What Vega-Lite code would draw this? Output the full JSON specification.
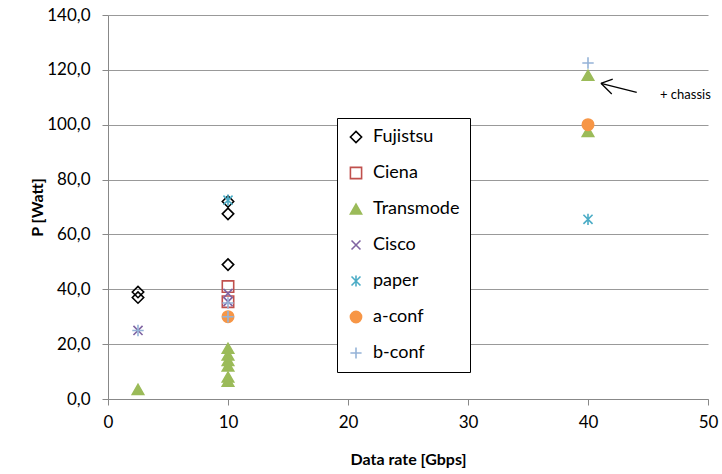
{
  "$schema": "https://vega.github.io/schema/vega-lite/v6.json",
  "autosize": "none",
  "width": 600,
  "height": 384,
  "padding": {"left": 108, "top": 15, "right": 14, "bottom": 75},
  "background": "white",
  "config": {
    "font": "Lato",
    "view": {"stroke": null},
    "axis": {"labelFont": "Lato", "titleFont": "Lato", "labelColor": "black", "titleColor": "black"},
    "legend": {
      "orient": "none", "legendX": 229, "legendY": 103, "title": null,
      "strokeColor": "black", "padding": 10, "fillColor": "white",
      "labelFontSize": 18, "labelFont": "Lato", "labelColor": "black", "rowPadding": 18,
      "symbolSize": 125, "labelOffset": 8, "symbolStrokeWidth": 1.6, "symbolOpacity": 1
    }
  },
  "datasets": {
    "pts": [
      {"series": "Fujistsu", "rate": 2.5, "power": 39},
      {"series": "Fujistsu", "rate": 2.5, "power": 37},
      {"series": "Fujistsu", "rate": 10, "power": 72},
      {"series": "Fujistsu", "rate": 10, "power": 67.5},
      {"series": "Fujistsu", "rate": 10, "power": 49},
      {"series": "Ciena", "rate": 10, "power": 41},
      {"series": "Ciena", "rate": 10, "power": 35.5},
      {"series": "Transmode", "rate": 2.5, "power": 3.5},
      {"series": "Transmode", "rate": 10, "power": 18.5},
      {"series": "Transmode", "rate": 10, "power": 16},
      {"series": "Transmode", "rate": 10, "power": 14},
      {"series": "Transmode", "rate": 10, "power": 12},
      {"series": "Transmode", "rate": 10, "power": 8},
      {"series": "Transmode", "rate": 10, "power": 6.5},
      {"series": "Transmode", "rate": 40, "power": 118},
      {"series": "Transmode", "rate": 40, "power": 97.5},
      {"series": "Cisco", "rate": 2.5, "power": 25},
      {"series": "Cisco", "rate": 10, "power": 38.5},
      {"series": "Cisco", "rate": 10, "power": 35.5},
      {"series": "paper", "rate": 10, "power": 72.5},
      {"series": "paper", "rate": 40, "power": 65.5},
      {"series": "a-conf", "rate": 10, "power": 30},
      {"series": "a-conf", "rate": 40, "power": 100},
      {"series": "b-conf", "rate": 2.5, "power": 25},
      {"series": "b-conf", "rate": 10, "power": 35},
      {"series": "b-conf", "rate": 10, "power": 30},
      {"series": "b-conf", "rate": 40, "power": 122.5}
    ],
    "arrow": [
      {"seg": "shaft", "x1": 41.08, "y1": 115.1, "x2": 44.06, "y2": 111.8},
      {"seg": "up", "x1": 41.08, "y1": 115.1, "x2": 42.06, "y2": 116.6},
      {"seg": "low", "x1": 41.08, "y1": 115.1, "x2": 41.98, "y2": 111.2}
    ],
    "note": [{"rate": 46, "power": 110.8, "label": "+ chassis"}]
  },
  "layer": [
    {
      "data": {"name": "pts"},
      "mark": {"type": "point", "size": 130, "strokeWidth": 1.6, "opacity": 1, "clip": false},
      "encoding": {
        "x": {
          "field": "rate", "type": "quantitative",
          "scale": {"domain": [0, 50], "nice": false, "zero": true},
          "axis": {
            "title": "Data rate [Gbps]", "titleFontSize": 16, "titleFontWeight": "bold", "titlePadding": 21,
            "values": [0, 10, 20, 30, 40, 50], "labelFontSize": 17, "labelPadding": 9,
            "grid": false, "domainColor": "#888888", "tickColor": "#888888", "tickSize": 6, "labelFlush": false
          }
        },
        "y": {
          "field": "power", "type": "quantitative",
          "scale": {"domain": [0, 140], "nice": false},
          "axis": {
            "title": "P [Watt]", "titleFontSize": 16, "titleFontWeight": "bold", "titleX": -63,
            "values": [0, 20, 40, 60, 80, 100, 120, 140], "labelFontSize": 17, "labelPadding": 12,
            "labelExpr": "replace(format(datum.value, '.1f'), '.', ',')",
            "grid": true, "gridColor": "#999999", "gridWidth": 1,
            "domainColor": "#888888", "tickColor": "#888888", "tickSize": 6
          }
        },
        "shape": {
          "field": "series", "type": "nominal",
          "scale": {
            "domain": ["Fujistsu", "Ciena", "Transmode", "Cisco", "paper", "a-conf", "b-conf"],
            "range": ["diamond", "square", "triangle-up", "M-0.8,-0.8L0.8,0.8M-0.8,0.8L0.8,-0.8", "M-0.8,-0.8L0.8,0.8M-0.8,0.8L0.8,-0.8M0,-1L0,1", "circle", "M-1,0L1,0M0,-1L0,1"]
          }
        },
        "stroke": {
          "field": "series", "type": "nominal",
          "scale": {
            "domain": ["Fujistsu", "Ciena", "Transmode", "Cisco", "paper", "a-conf", "b-conf"],
            "range": ["#000000", "#c0504d", "#9bbb59", "#8064a2", "#4bacc6", "#f79646", "#95b3d7"]
          }
        },
        "fill": {
          "field": "series", "type": "nominal",
          "scale": {
            "domain": ["Fujistsu", "Ciena", "Transmode", "Cisco", "paper", "a-conf", "b-conf"],
            "range": ["transparent", "transparent", "#9bbb59", "transparent", "transparent", "#f79646", "transparent"]
          }
        }
      }
    },
    {
      "data": {"name": "arrow"},
      "mark": {"type": "rule", "color": "black", "strokeWidth": 1.3},
      "encoding": {
        "x": {"field": "x1", "type": "quantitative"},
        "y": {"field": "y1", "type": "quantitative"},
        "x2": {"field": "x2"},
        "y2": {"field": "y2"}
      }
    },
    {
      "data": {"name": "note"},
      "mark": {"type": "text", "align": "left", "baseline": "middle", "fontSize": 13, "font": "Lato", "color": "black"},
      "encoding": {
        "x": {"field": "rate", "type": "quantitative"},
        "y": {"field": "power", "type": "quantitative"},
        "text": {"field": "label"}
      }
    }
  ]
}
